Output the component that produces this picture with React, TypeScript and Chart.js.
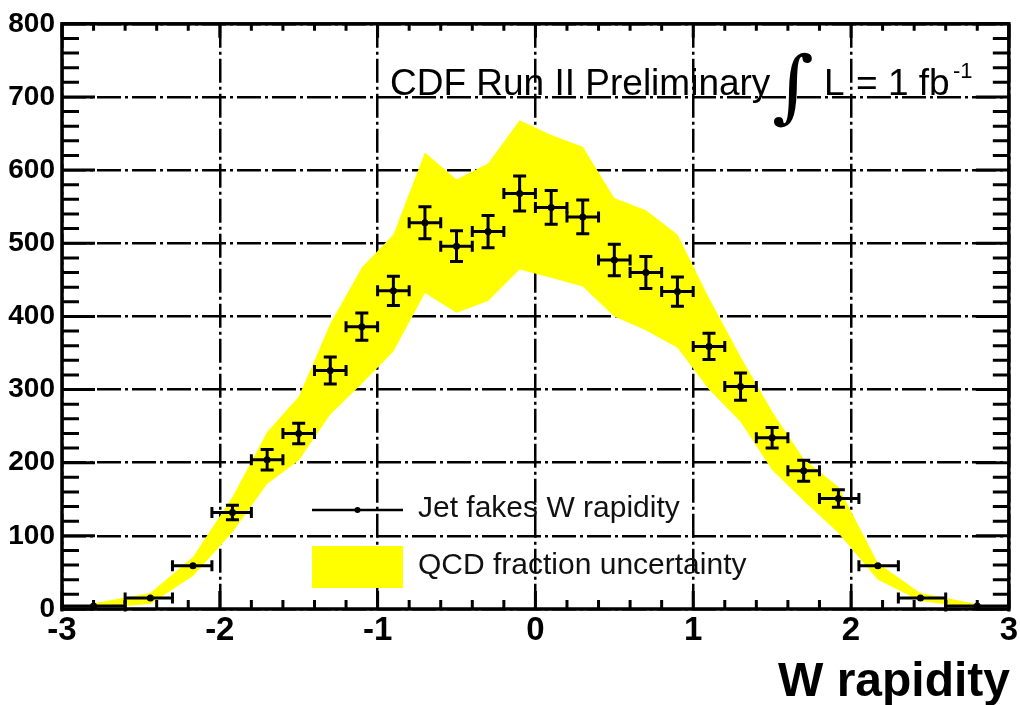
import React, { useEffect, useRef } from "react";
import { Chart, registerables } from "chart.js";

Chart.register(...registerables);

// ---- data ----
const binCenters = [-2.8, -2.44, -2.17, -1.92, -1.7, -1.5, -1.3, -1.1, -0.9, -0.7, -0.5, -0.3, -0.1, 0.1, 0.3, 0.5, 0.7, 0.9, 1.1, 1.3, 1.5, 1.7, 1.92, 2.17, 2.44, 2.8];
const binLow = [-3, -2.6, -2.3, -2.05, -1.8, -1.6, -1.4, -1.2, -1.0, -0.8, -0.6, -0.4, -0.2, 0, 0.2, 0.4, 0.6, 0.8, 1.0, 1.2, 1.4, 1.6, 1.8, 2.05, 2.3, 2.6];
const binHigh = [-2.6, -2.3, -2.05, -1.8, -1.6, -1.4, -1.2, -1.0, -0.8, -0.6, -0.4, -0.2, 0, 0.2, 0.4, 0.6, 0.8, 1.0, 1.2, 1.4, 1.6, 1.8, 2.05, 2.3, 2.6, 3];
const jetFakes = [4, 15, 59, 132, 204, 240, 326, 386, 435, 528, 496, 516, 568, 549, 536, 477, 460, 434, 359, 304, 234, 189, 151, 59, 15, 4];
const statErr = [1.5, 3, 5, 10, 14, 14, 18.5, 18.5, 20, 22, 21, 22, 24, 23, 23, 21.5, 22, 20, 18, 18.5, 14, 14.5, 12, 5, 3, 1.5];
const qcdUpper = [8, 22, 71, 153, 242, 290, 390, 467, 512, 624, 587, 609, 668, 648, 632, 562, 545, 512, 425, 345, 270, 205, 167, 63, 22, 7];
const qcdLower = [1, 7, 45, 105, 171, 203, 266, 308, 352, 432, 405, 421, 464, 453, 441, 400, 381, 357, 300, 256, 190, 148, 104, 40, 11, 1];

const xTickMin = -3;
const xTickMax = 3;
const yTickMin = 0;
const yTickMax = 800;

const headerText = "CDF Run II Preliminary";
const legendPoints = "Jet fakes W rapidity";
const legendBand = "QCD fraction uncertainty";
const xTitle = "W rapidity";

const SANS = '"Liberation Sans", Arial, Helvetica, sans-serif';
const YELLOW = "#ffff00";

const decorPlugin = {
  id: "rootDecor",
  afterDatasetsDraw(chart: any) {
    const { ctx, scales } = chart;
    const x = scales.x;
    const y = scales.y;
    ctx.save();
    // error bars
    ctx.strokeStyle = "#000";
    ctx.lineWidth = 3;
    for (let i = 0; i < binCenters.length; i++) {
      const cx = x.getPixelForValue(binCenters[i]);
      const cy = y.getPixelForValue(jetFakes[i]);
      const xl = x.getPixelForValue(binLow[i]);
      const xh = x.getPixelForValue(binHigh[i]);
      const yt = y.getPixelForValue(jetFakes[i] + statErr[i]);
      const yb = y.getPixelForValue(jetFakes[i] - statErr[i]);
      ctx.beginPath();
      ctx.moveTo(xl, cy);
      ctx.lineTo(xh, cy);
      ctx.moveTo(xl, cy - 5.5);
      ctx.lineTo(xl, cy + 5.5);
      ctx.moveTo(xh, cy - 5.5);
      ctx.lineTo(xh, cy + 5.5);
      if (yb - yt > 9) {
        ctx.moveTo(cx, yt);
        ctx.lineTo(cx, yb);
        ctx.moveTo(cx - 6.5, yt);
        ctx.lineTo(cx + 6.5, yt);
        ctx.moveTo(cx - 6.5, yb);
        ctx.lineTo(cx + 6.5, yb);
      }
      ctx.stroke();
    }

    // legend (drawn inside plot, no box)
    const lx0 = 312, lx1 = 403, ly1 = 510;
    ctx.lineWidth = 2.5;
    ctx.beginPath();
    ctx.moveTo(lx0, ly1);
    ctx.lineTo(lx1, ly1);
    ctx.stroke();
    ctx.fillStyle = "#000";
    ctx.beginPath();
    ctx.arc((lx0 + lx1) / 2, ly1, 3, 0, Math.PI * 2);
    ctx.fill();
    ctx.fillStyle = YELLOW;
    ctx.fillRect(312, 546, 91, 42);
    ctx.fillStyle = "#111";
    ctx.font = `30px ${SANS}`;
    ctx.textBaseline = "middle";
    ctx.textAlign = "left";
    ctx.fillText(legendPoints, 418, 509);
    ctx.fillText(legendBand, 418, 566);

    // header
    ctx.fillStyle = "#000";
    ctx.textBaseline = "alphabetic";
    ctx.font = `37px ${SANS}`;
    ctx.fillText(headerText, 390, 95);
    ctx.font = `italic 80px "DejaVu Serif", "Liberation Serif", serif`;
    ctx.fillText("\u222B", 772, 113);
    ctx.font = `37px ${SANS}`;
    ctx.fillText("L", 824, 95);
    ctx.fillText("= 1 fb", 856, 95);
    ctx.font = `22px ${SANS}`;
    ctx.fillText("-1", 953, 78);
    ctx.restore();
  },
  afterDraw(chart: any) {
    const { ctx, chartArea, scales } = chart;
    const x = scales.x;
    const y = scales.y;
    const { left, right, top, bottom } = chartArea;
    ctx.save();
    ctx.strokeStyle = "#000";
    ctx.lineWidth = 3;
    ctx.beginPath();
    // y ticks (left and right), every 20
    for (let v = yTickMin; v <= yTickMax; v += 20) {
      const py = y.getPixelForValue(v);
      const major = v % 100 === 0;
      const lenL = major ? 33 : 17;
      const lenR = major ? 33 : 16;
      ctx.moveTo(left, py);
      ctx.lineTo(left + lenL, py);
      ctx.moveTo(right, py);
      ctx.lineTo(right - lenR, py);
    }
    // x ticks (top and bottom), every 0.2
    for (let k = 0; k <= 30; k++) {
      const v = xTickMin + k * 0.2;
      const px = x.getPixelForValue(v);
      const major = k % 5 === 0;
      ctx.moveTo(px, bottom);
      ctx.lineTo(px, bottom - (major ? 18 : 9));
      ctx.moveTo(px, top);
      ctx.lineTo(px, top + (major ? 14 : 7));
    }
    ctx.stroke();
    ctx.lineWidth = 3.5;
    ctx.strokeRect(left, top, right - left, bottom - top);

    // x axis title
    ctx.fillStyle = "#000";
    ctx.font = `bold 48px ${SANS}`;
    ctx.textAlign = "right";
    ctx.textBaseline = "alphabetic";
    ctx.fillText(xTitle, 1010, 696);
    ctx.restore();
  },
};

export default function App() {
  const canvasRef = useRef<HTMLCanvasElement | null>(null);

  useEffect(() => {
    const canvas = canvasRef.current;
    if (!canvas) return;
    const upper = binCenters.map((c, i) => ({ x: c, y: qcdUpper[i] }));
    const lower = binCenters.map((c, i) => ({ x: c, y: qcdLower[i] }));
    const pts = binCenters.map((c, i) => ({ x: c, y: jetFakes[i] }));

    const chart = new Chart(canvas, {
      type: "scatter",
      data: {
        datasets: [
          {
            label: legendPoints,
            data: pts,
            showLine: false,
            pointRadius: 3.5,
            pointBackgroundColor: "#000",
            pointBorderWidth: 0,
            order: 0,
          },
          {
            label: legendBand,
            data: upper,
            showLine: true,
            borderWidth: 0,
            borderColor: YELLOW,
            backgroundColor: YELLOW,
            pointRadius: 0,
            tension: 0,
            fill: "+1",
            order: 1,
          },
          {
            label: "lower",
            data: lower,
            showLine: true,
            borderWidth: 0,
            borderColor: YELLOW,
            backgroundColor: YELLOW,
            pointRadius: 0,
            tension: 0,
            fill: false,
            order: 2,
          },
        ],
      },
      options: {
        responsive: false,
        animation: false,
        devicePixelRatio: 1,
        layout: { padding: { top: 22, right: 8, left: 0, bottom: 0 } },
        plugins: {
          legend: { display: false },
          tooltip: { enabled: false },
        },
        scales: {
          x: {
            type: "linear",
            min: xTickMin,
            max: xTickMax,
            afterFit: (s: any) => {
              s.height = 96;
            },
            ticks: {
              stepSize: 1,
              autoSkip: false,
              padding: 2,
              color: "#000",
              font: { family: SANS, size: 33, weight: "bold" },
            },
            grid: { color: "#000", lineWidth: 2.5, drawTicks: false },
            border: { display: false, dash: [24, 4, 3, 4] },
          },
          y: {
            type: "linear",
            min: yTickMin,
            max: yTickMax,
            afterFit: (s: any) => {
              s.width = 62;
            },
            ticks: {
              stepSize: 100,
              autoSkip: false,
              padding: 7,
              color: "#000",
              font: { family: SANS, size: 28, weight: "bold" },
            },
            grid: { color: "#000", lineWidth: 2.5, drawTicks: false },
            border: { display: false, dash: [24, 4, 3, 4] },
          },
        },
      },
      plugins: [decorPlugin],
    });
    return () => chart.destroy();
  }, []);

  return (
    <div style={{ position: "absolute", left: 0, top: 0, width: 1020, height: 705, background: "#fff" }}>
      <canvas ref={canvasRef} width={1020} height={705} />
    </div>
  );
}
